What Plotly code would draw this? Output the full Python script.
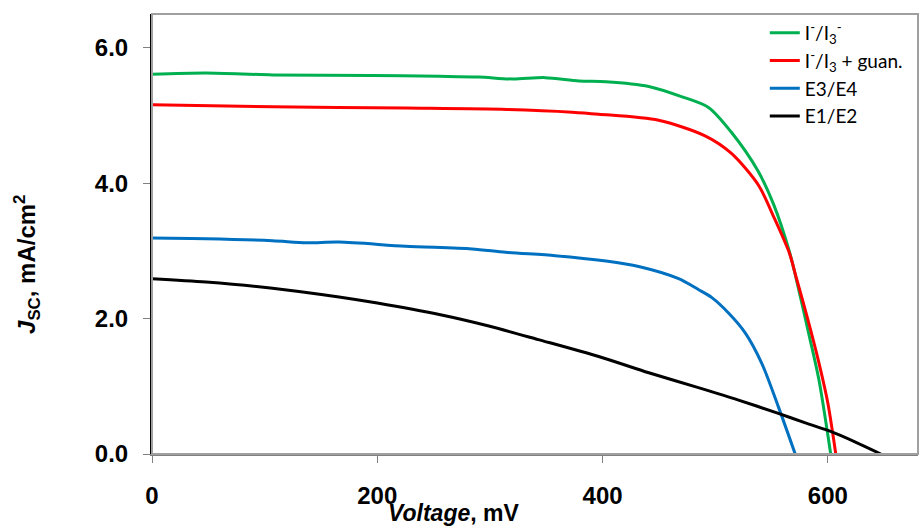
import plotly.graph_objects as go

# ---- data ----
v_green = [0, 48, 107, 195, 255, 290, 320, 349, 379, 403, 441, 470, 494, 514, 538, 552, 566, 572, 582, 592, 602.5]
j_green = [5.61, 5.63, 5.60, 5.59, 5.58, 5.57, 5.54, 5.56, 5.51, 5.50, 5.43, 5.28, 5.12, 4.76, 4.18, 3.68, 2.98, 2.58, 1.85, 1.10, 0.0]

v_red = [0, 107, 225, 315, 373, 396.5, 449.7, 491, 514.4, 538.4, 552, 566, 572, 582, 592, 600, 607]
j_red = [5.16, 5.13, 5.11, 5.09, 5.05, 5.02, 4.93, 4.70, 4.44, 3.97, 3.50, 2.96, 2.60, 2.0, 1.35, 0.75, 0.0]

v_blue = [0, 48, 107, 137, 166, 225, 284, 314, 358, 403, 432, 467.5, 485, 497, 512, 526.6, 541.3, 556, 571]
j_blue = [3.19, 3.18, 3.15, 3.12, 3.13, 3.07, 3.03, 2.98, 2.93, 2.85, 2.77, 2.59, 2.43, 2.31, 2.08, 1.79, 1.34, 0.70, 0.0]

v_black = [0, 48, 107, 166, 200, 255, 299, 343, 396.5, 441, 485, 520, 556, 580, 603, 624, 647]
j_black = [2.59, 2.54, 2.45, 2.32, 2.23, 2.06, 1.89, 1.69, 1.44, 1.20, 0.98, 0.80, 0.60, 0.46, 0.33, 0.18, 0.0]

names = ["I<sup>-</sup>/I<sub>3</sub><sup>-</sup>",
         "I<sup>-</sup>/I<sub>3</sub> + guan.",
         "E3/E4",
         "E1/E2"]
colors = ["#00B050", "#FF0000", "#0070C0", "#000000"]

x_ticks = [0, 200, 400, 600]
y_ticks = [0.0, 2.0, 4.0, 6.0]

x_title = "<b><i>Voltage</i>, mV</b>"
y_title = "<b><i>J</i><sub>SC</sub>, mA/cm<sup>2</sup></b>"

fig = go.Figure()
for (vx, jy), nm, c in zip([(v_green, j_green), (v_red, j_red), (v_blue, j_blue), (v_black, j_black)], names, colors):
    fig.add_trace(go.Scatter(x=vx, y=jy, mode="lines", name=nm,
                             line=dict(color=c, width=3, shape="spline", smoothing=0.8)))

tick_font = dict(family="Liberation Sans, Arial", size=24, color="#000000", weight="bold")

fig.update_layout(
    width=921, height=529,
    margin=dict(l=152, r=3, t=14, b=75),
    paper_bgcolor="white", plot_bgcolor="white",
    showlegend=True,
    legend=dict(x=0.80, y=1.0, xanchor="left", yanchor="top",
                font=dict(family="Lato, Open Sans", size=19, color="#000000"),
                bgcolor="rgba(0,0,0,0)", tracegroupgap=0),
    xaxis=dict(range=[0, 680], tickvals=x_ticks, ticktext=[str(t) for t in x_ticks],
               showgrid=False, zeroline=False, showline=True, linecolor="#808080", linewidth=2,
               ticks="outside", ticklen=7, tickcolor="#808080", tickwidth=1,
               tickfont=tick_font, ticklabelstandoff=12),
    yaxis=dict(range=[0, 6.5], tickvals=y_ticks, ticktext=[f"{t:.1f}" for t in y_ticks],
               showgrid=False, zeroline=False, showline=True, linecolor="#000000", linewidth=2,
               ticks="outside", ticklen=7, tickcolor="#808080", tickwidth=1,
               tickfont=tick_font, ticklabelstandoff=10),
)

fig.add_annotation(text=x_title, xref="paper", yref="paper", x=0.394, y=-0.134,
                   xanchor="center", yanchor="middle", showarrow=False,
                   font=dict(family="Liberation Sans, Arial", size=23, color="#000"))
fig.add_annotation(text=y_title, xref="paper", yref="paper", x=-0.163, y=0.43,
                   xanchor="center", yanchor="middle", showarrow=False, textangle=-90,
                   font=dict(family="Liberation Sans, Arial", size=24, color="#000"))

# plot-area border (gray) like the reference
fig.add_shape(type="rect", xref="paper", yref="paper", x0=0, y0=0, x1=1, y1=1,
              line=dict(color="#A0A0A0", width=2), layer="above")

fig.write_html("out.html")
